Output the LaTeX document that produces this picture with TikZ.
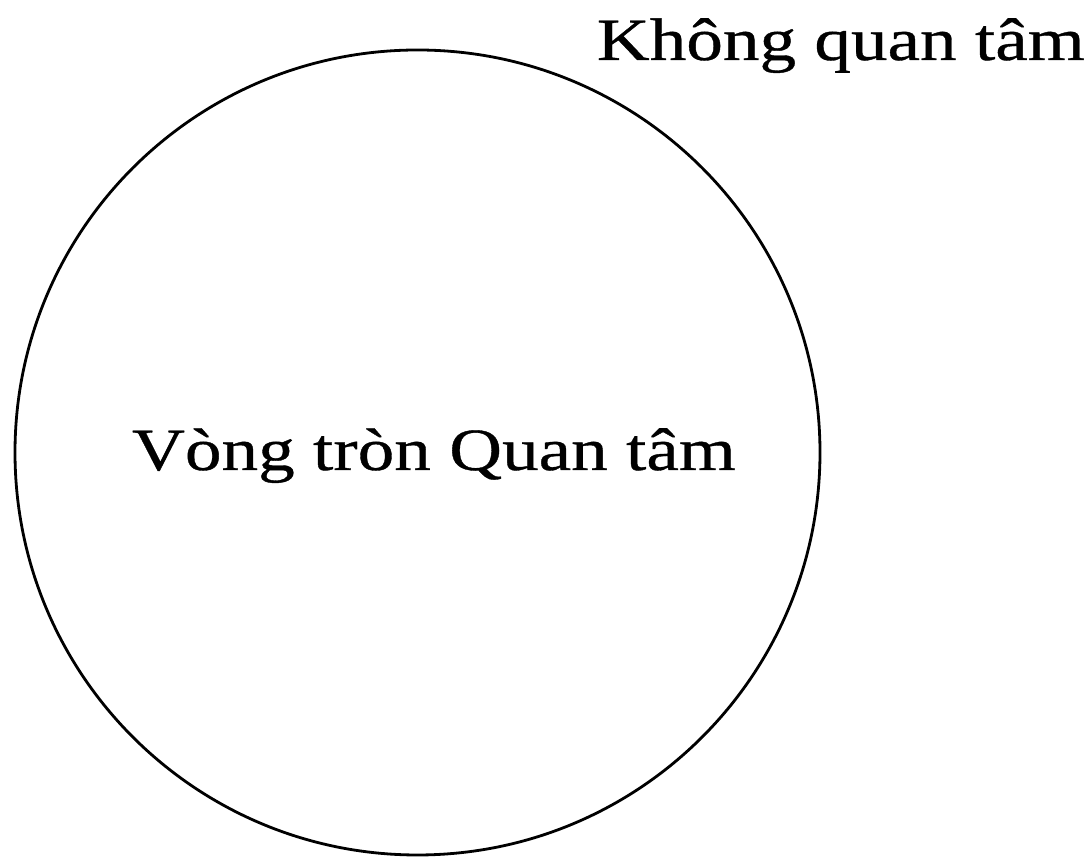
\documentclass[tikz,border=0pt]{standalone}
\usepackage{fontspec}
\setmainfont{Liberation Serif}[FakeStretch=1.22, FakeBold=0.6]
\begin{document}
\begin{tikzpicture}[x=1pt,y=1pt,
  lbl/.style={inner sep=0pt, font=\fontsize{60}{72}\selectfont}]
\useasboundingbox (0,0) rectangle (1087,858);
\node[circle, draw, line width=2.8pt, minimum size=805pt, inner sep=0pt] (ring) at (417.5,405.5) {};
\node[lbl, anchor=base] (inner) at (434,388) {Vòng tròn Quan tâm};
\node[lbl, anchor=base east] (outer) at (1085,798) {Không quan tâm};
\end{tikzpicture}
\end{document}
